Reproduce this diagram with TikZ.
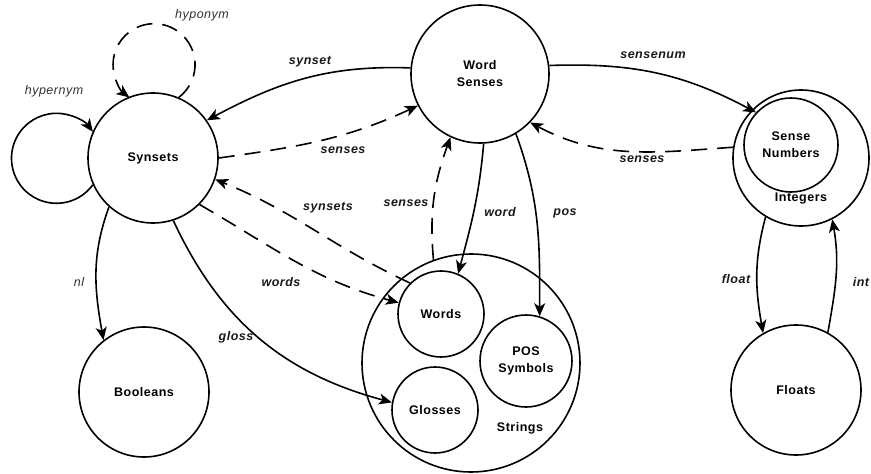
\documentclass[tikz,border=0pt]{standalone}
\usepackage{fontspec}
\setmainfont{Liberation Sans}[LetterSpace=4]
\usetikzlibrary{arrows.meta}

\newcommand\setfont{\fontsize{12.5}{17}\selectfont\bfseries}
\newcommand\relfont{\fontsize{12.5}{15}\selectfont\bfseries\itshape}
\newcommand\plainfont{\fontsize{12.5}{15}\selectfont\itshape}

\tikzset{
	set/.style={circle, draw, line width=1.6pt, font=\setfont, align=center, inner sep=0pt},
	inner/.style={font=\setfont, inner sep=0pt},
	rel/.style={line width=1.6pt, -{Stealth[length=13pt,width=11pt,inset=3.5pt]}},
	inv/.style={rel, dash pattern=on 16pt off 10pt},
	lbl/.style={font=\relfont, inner sep=0pt, text=black!90},
	plainlbl/.style={font=\plainfont, inner sep=0pt, text=black!80},
}

\begin{document}
\begin{tikzpicture}[x=1pt, y=1pt]
		%%%%% START %%%%%
		\useasboundingbox (0,0) rectangle (871,-474);
		
		% sets
		\node[set, minimum size=130pt] (syn) at (153,-158) {Synsets};
		\node[set, minimum size=138pt] (ws) at (480,-74) {Word\\Senses};
		\node[set, minimum size=136pt] (ints) at (801,-158) {};
		\node[set, minimum size=94pt] (sn) at (791,-145) {Sense\\Numbers};
		\node[inner] (intsname) at (801,-199) {Integers};
		\node[set, minimum size=130pt] (bool) at (144,-392) {Booleans};
		\node[set, minimum size=130pt] (flt) at (796,-390) {Floats};
		
		\node[set, minimum size=218pt] (str) at (471,-363) {};
		\node[inner] (strname) at (520,-428) {Strings};
		\node[set, minimum size=86pt] (wrd) at (441,-314) {Words};
		\node[set, minimum size=92pt] (pos) at (526,-361) {POS\\Symbols};
		\node[set, minimum size=86pt] (gls) at (435,-410) {Glosses};
		
		% self loops
		\draw[rel] (syn.204) arc[start angle=-36, end angle=-324, radius=45];
		\draw[inv] (syn.67) arc[start angle=-53, end angle=233, radius=41];
		
		% functions
		\draw[rel] (ws.175) to[out=178, in=28] (syn.35);
		\draw[rel] (ws.7) to[out=2, in=152] (sn.137);
		\draw[rel] (ws.273) to[out=265, in=75] (wrd.67);
		\draw[rel] (ws.301) to[out=290, in=90] (pos.73);
		\draw[rel] (syn.228) to[out=250, in=100] (bool.128);
		\draw[rel] (syn.288) to[out=295, in=165] (gls.170);
		\draw[rel] (ints.239) to[out=255, in=100] (flt.120);
		\draw[rel] (flt.61) to[out=80, in=280] (ints.297);
		
		% inverses
		\draw[inv] (syn.0) to[out=8, in=205] (ws.207);
		\draw[inv] (wrd.135) to[out=155, in=-22] (syn.341);
		\draw[inv] (syn.315) to[out=-30, in=165] (wrd.165);
		\draw[inv] (str.110) to[out=95, in=250] (ws.245);
		\draw[inv] (ints.171) to[out=184, in=-28] (ws.316);
		
		% labels
		\node[plainlbl] (lhypo) at (202,-15) {hyponym};
		\node[plainlbl] (lhyper) at (54,-91) {hypernym};
		\node[lbl] (lsynset) at (310,-62) {synset};
		\node[lbl] (lsenses1) at (343,-150) {senses};
		\node[lbl] (lsynsets) at (328,-208) {synsets};
		\node[lbl] (lwords) at (281,-282) {words};
		\node[lbl] (lsenses2) at (406,-203) {senses};
		\node[lbl] (lword) at (500,-212) {word};
		\node[lbl] (lpos) at (565,-213) {pos};
		\node[lbl] (lsensenum) at (653,-55) {sensenum};
		\node[lbl] (lsenses3) at (642,-159) {senses};
		\node[plainlbl] (lnl) at (79,-282) {nl};
		\node[lbl] (lgloss) at (236,-337) {gloss};
		\node[lbl] (lfloat) at (736,-279) {float};
		\node[lbl] (lint) at (861,-282) {int};
		%%%%% END %%%%%
\end{tikzpicture}
\end{document}
